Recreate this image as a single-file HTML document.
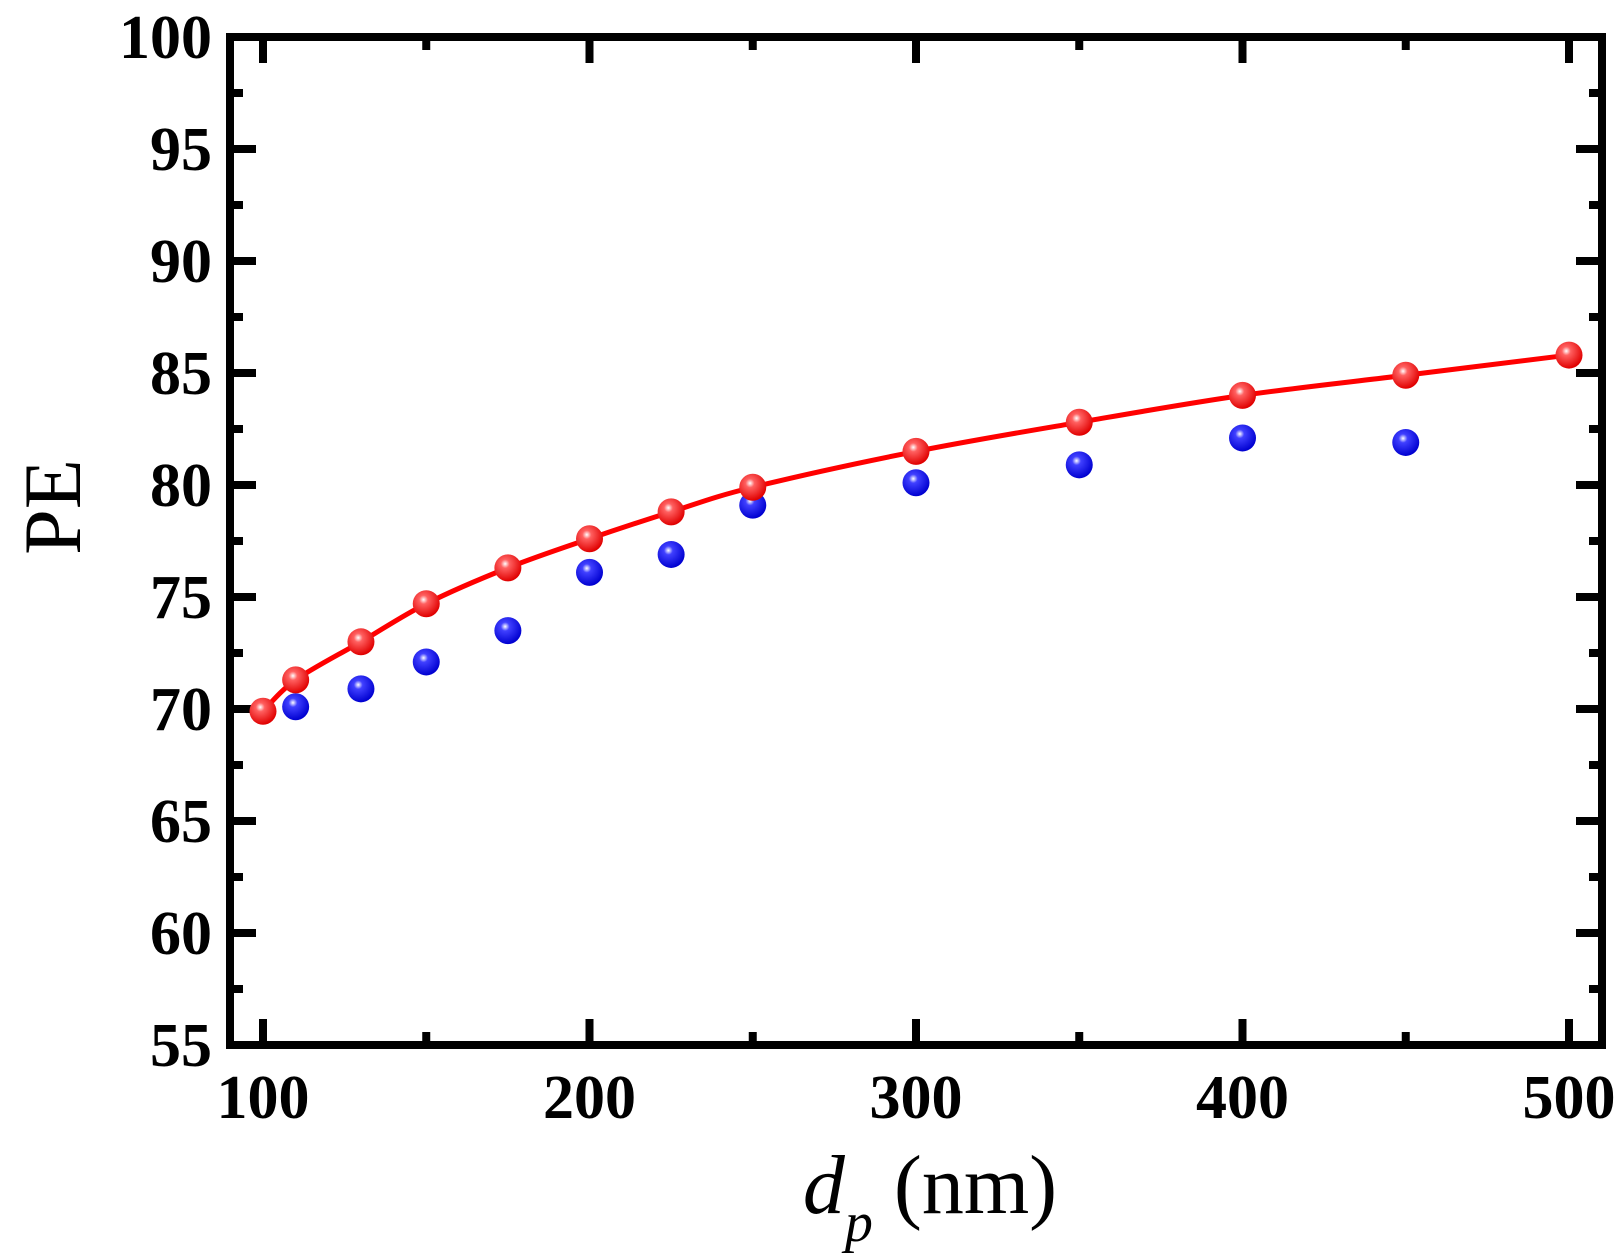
<!DOCTYPE html>
<html><head><meta charset="utf-8"><style>
html,body{margin:0;padding:0;background:#fff;}
svg{display:block;font-family:"Liberation Serif",serif;}
</style></head><body>
<svg id="chart" width="1623" height="1260" viewBox="0 0 1623 1260" xmlns="http://www.w3.org/2000/svg">
<defs>
<radialGradient id="gRed" cx="0.4" cy="0.35" r="0.65"><stop offset="0" stop-color="#fff"/><stop offset="0.25" stop-color="#ff6060"/><stop offset="1" stop-color="#e00000"/></radialGradient>
<radialGradient id="gBlue" cx="0.4" cy="0.35" r="0.65"><stop offset="0" stop-color="#fff"/><stop offset="0.25" stop-color="#4040ff"/><stop offset="1" stop-color="#0000d0"/></radialGradient>
</defs>
<g id="plot"></g>
<text x="0" y="0" transform="translate(80,507) rotate(-90)" text-anchor="middle" font-size="82">PE</text>
<text x="930" y="1213" text-anchor="middle" font-size="84"><tspan font-style="italic">d</tspan><tspan font-style="italic" font-size="56" dy="28">p</tspan><tspan dy="-28"> (nm)</tspan></text>
</svg>
<script>
const xTicks=[100,200,300,400,500];
const yTicks=[55,60,65,70,75,80,85,90,95,100];
const redX=[100,110,130,150,175,200,225,250,300,350,400,450,500];
const redY=[69.9,71.3,73.0,74.7,76.3,77.6,78.8,79.9,81.5,82.8,84.0,84.9,85.8];
const blueX=[110,130,150,175,200,225,250,300,350,400,450];
const blueY=[70.1,70.9,72.1,73.5,76.1,76.9,79.1,80.1,80.9,82.1,81.9];

const L=230,R=1602,T=37,B=1045;
const X0=263,X1=1569;
const sx=v=>X0+(v-100)*(X1-X0)/400;
const sy=v=>B-(v-55)*(B-T)/45;
const NS='http://www.w3.org/2000/svg';
const g=document.getElementById('plot');
function mk(tag,attrs){const e=document.createElementNS(NS,tag);for(const k in attrs)e.setAttribute(k,attrs[k]);return e;}

const fr=mk('rect',{x:L,y:T,width:R-L,height:B-T,fill:'none',stroke:'#000','stroke-width':8});


g.appendChild(fr);

for(let v=100;v<=500;v+=50){
  const major=v%100===0;const len=major?26:13;const x=sx(v);
  const t1=mk('line',{x1:x,x2:x,y1:B,y2:B-len,stroke:'#000','stroke-width':8});
  
  
  g.appendChild(t1);
  const t2=mk('line',{x1:x,x2:x,y1:T,y2:T+len,stroke:'#000','stroke-width':8});
  
  
  g.appendChild(t2);
}
xTicks.forEach(v=>{
  const t=mk('text',{x:sx(v),y:1118,'text-anchor':'middle','font-size':62,'font-weight':'bold'});
  t.textContent=v;
  
  
  g.appendChild(t);
});
for(let v=55;v<=100;v+=2.5){
  const major=v%5===0;const len=major?26:13;const y=sy(v);
  const t1=mk('line',{x1:L,x2:L+len,y1:y,y2:y,stroke:'#000','stroke-width':8});
  
  
  g.appendChild(t1);
  const t2=mk('line',{x1:R,x2:R-len,y1:y,y2:y,stroke:'#000','stroke-width':8});
  
  
  g.appendChild(t2);
}
yTicks.forEach(v=>{
  const t=mk('text',{x:212,y:sy(v)+21,'text-anchor':'end','font-size':62,'font-weight':'bold'});
  t.textContent=v;
  
  
  g.appendChild(t);
});

const pts=redX.map((x,i)=>[sx(x),sy(redY[i])]);
let d='M'+pts[0][0]+','+pts[0][1];
for(let i=0;i<pts.length-1;i++){
  const p0=pts[Math.max(0,i-1)],p1=pts[i],p2=pts[i+1],p3=pts[Math.min(pts.length-1,i+2)];
  const c1=[p1[0]+(p2[0]-p0[0])/6,p1[1]+(p2[1]-p0[1])/6];
  const c2=[p2[0]-(p3[0]-p1[0])/6,p2[1]-(p3[1]-p1[1])/6];
  d+=` C${c1[0]},${c1[1]} ${c2[0]},${c2[1]} ${p2[0]},${p2[1]}`;
}
const line=mk('path',{d:d,fill:'none',stroke:'#f00','stroke-width':5});


g.appendChild(line);

blueX.forEach((x,i)=>{
  const c=mk('circle',{cx:sx(x),cy:sy(blueY[i]),r:13.5,fill:'url(#gBlue)'});
  
  
  g.appendChild(c);
});
redX.forEach((x,i)=>{
  const c=mk('circle',{cx:sx(x),cy:sy(redY[i]),r:13.5,fill:'url(#gRed)'});
  
  
  g.appendChild(c);
});
</script>
</body></html>
